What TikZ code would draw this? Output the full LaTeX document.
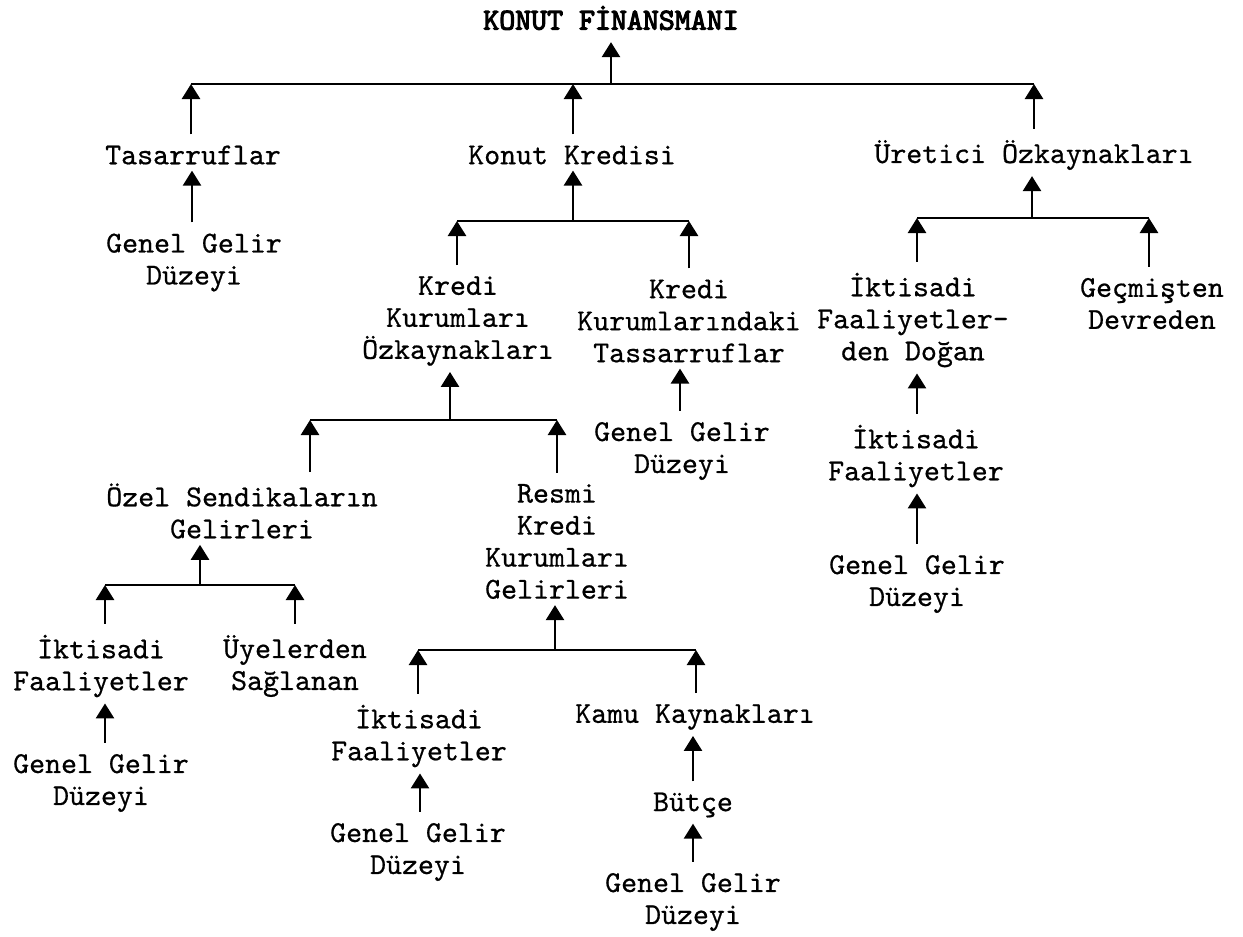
\documentclass[tikz,border=0pt]{standalone}
\usepackage{fontspec}
\newfontfamily\tw{lmmono10-regular}[Extension=.otf, FakeBold=0.6]
\newfontfamily\twb{lmmono10-regular}[Extension=.otf, FakeBold=3.5]
\usetikzlibrary{arrows.meta}
\begin{document}
\begin{tikzpicture}[x=1pt,y=-1pt,
  lbl/.style={font=\tw\fontsize{30.4}{32}\selectfont, align=center, inner sep=0pt},
  ttl/.style={font=\twb\fontsize{30.4}{32}\selectfont, inner sep=0pt},
  arr/.style={line width=2.6pt, -{Triangle[length=15pt,width=18pt]}},
  fromnode/.style={shorten <=11pt},
  tonode/.style={shorten >=6pt},
  bar/.style={line width=2.6pt}]
\useasboundingbox (0,0) rectangle (1243,937);
% nodes
\node[ttl] (title) at (611,18) {KONUT FİNANSMANI};
\node[lbl] (tas)  at (193,155) {Tasarruflar};
\node[lbl] (kk)   at (572,155) {Konut Kredisi};
\node[lbl] (ur)   at (1034,155) {Üretici Özkaynakları};
\node[lbl] (tasg) at (194,262.5) {Genel Gelir\\Düzeyi};
\node[lbl] (kko)  at (458,321) {Kredi\\Kurumları\\Özkaynakları};
\node[lbl] (kkt)  at (689,321) {Kredi\\Kurumlarındaki\\Tassarruflar};
\node[lbl] (kktg) at (682,451) {Genel Gelir\\Düzeyi};
\node[lbl] (ozel) at (242,511) {Özel Sendikaların\\Gelirleri};
\node[lbl] (resmi) at (557,541.5) {Resmi\\Kredi\\Kurumları\\Gelirleri};
\node[lbl] (ifa)  at (101,666) {İktisadi\\Faaliyetler};
\node[lbl] (uye)  at (295,666) {Üyelerden\\Sağlanan};
\node[lbl] (ifag) at (101,783) {Genel Gelir\\Düzeyi};
\node[lbl] (ifb)  at (419,736) {İktisadi\\Faaliyetler};
\node[lbl] (ifbg) at (418,852) {Genel Gelir\\Düzeyi};
\node[lbl] (kamu) at (695,717) {Kamu Kaynakları};
\node[lbl] (butce) at (693,805) {Bütçe};
\node[lbl] (butg) at (693,902) {Genel Gelir\\Düzeyi};
\node[lbl] (ifd)  at (913,320) {İktisadi\\Faaliyetler-\\den Doğan};
\node[lbl] (gec)  at (1152,303.5) {Geçmişten\\Devreden};
\node[lbl] (ifc)  at (916,456) {İktisadi\\Faaliyetler};
\node[lbl] (ifcg) at (917,584) {Genel Gelir\\Düzeyi};
% bar coordinates
\coordinate (b0L) at (191,84);  \coordinate (b0M) at (573,84);
\coordinate (b0R) at (1034,84); \coordinate (b0C) at (611,84);
\coordinate (b1L) at (457,221); \coordinate (b1R) at (689,221); \coordinate (b1C) at (573,221);
\coordinate (b2L) at (917,218); \coordinate (b2R) at (1149,218); \coordinate (b2C) at (1032,218);
\coordinate (b3L) at (310,420); \coordinate (b3R) at (557,420); \coordinate (b3C) at (450,420);
\coordinate (b4L) at (105,585); \coordinate (b4R) at (295,585); \coordinate (b4C) at (200,585);
\coordinate (b5L) at (418,650); \coordinate (b5R) at (696,650); \coordinate (b5C) at (555,650);
% bars
\draw[bar] (b0L) -- (b0R);
\draw[bar] (b1L) -- (b1R);
\draw[bar] (b2L) -- (b2R);
\draw[bar] (b3L) -- (b3R);
\draw[bar] (b4L) -- (b4R);
\draw[bar] (b5L) -- (b5R);
% bars to parents
\draw[arr, shorten >=12pt] (b0C) -- (title.south -| b0C);
\draw[arr, tonode] (b1C) -- (kk.south -| b1C);
\draw[arr, tonode] (b2C) -- (ur.south -| b2C);
\draw[arr, tonode] (b3C) -- (kko.south -| b3C);
\draw[arr, tonode] (b4C) -- (ozel.south -| b4C);
\draw[arr, tonode] (b5C) -- (resmi.south -| b5C);
% children to bars
\draw[arr, fromnode] (tas.north -| b0L) -- (b0L);
\draw[arr, fromnode] (kk.north -| b0M) -- (b0M);
\draw[arr, fromnode] (ur.north -| b0R) -- (b0R);
\draw[arr, fromnode] (kko.north -| b1L) -- (b1L);
\draw[arr, fromnode] (kkt.north -| b1R) -- (b1R);
\draw[arr, fromnode] (ifd.north -| b2L) -- (b2L);
\draw[arr, fromnode] (gec.north -| b2R) -- (b2R);
\draw[arr, fromnode] (ozel.north -| b3L) -- (b3L);
\draw[arr, fromnode] (resmi.north -| b3R) -- (b3R);
\draw[arr, fromnode] (ifa.north -| b4L) -- (b4L);
\draw[arr, fromnode] (uye.north -| b4R) -- (b4R);
\draw[arr, fromnode] (ifb.north -| b5L) -- (b5L);
\draw[arr, fromnode] (kamu.north -| b5R) -- (b5R);
% direct node-to-node arrows
\coordinate (xa) at (192,0);
\coordinate (xb) at (680,0);
\coordinate (xc) at (105,0);
\coordinate (xd) at (420,0);
\coordinate (xe) at (693,0);
\coordinate (xf) at (917,0);
\draw[arr, fromnode, tonode] (tasg.north -| xa) -- (tas.south -| xa);
\draw[arr, fromnode, tonode] (kktg.north -| xb) -- (kkt.south -| xb);
\draw[arr, fromnode, tonode] (ifag.north -| xc) -- (ifa.south -| xc);
\draw[arr, fromnode, tonode] (ifbg.north -| xd) -- (ifb.south -| xd);
\draw[arr, fromnode, tonode] (butce.north -| xe) -- (kamu.south -| xe);
\draw[arr, fromnode, tonode] (butg.north -| xe) -- (butce.south -| xe);
\draw[arr, fromnode, tonode] (ifc.north -| xf) -- (ifd.south -| xf);
\draw[arr, fromnode, tonode] (ifcg.north -| xf) -- (ifc.south -| xf);
\end{tikzpicture}
\end{document}
